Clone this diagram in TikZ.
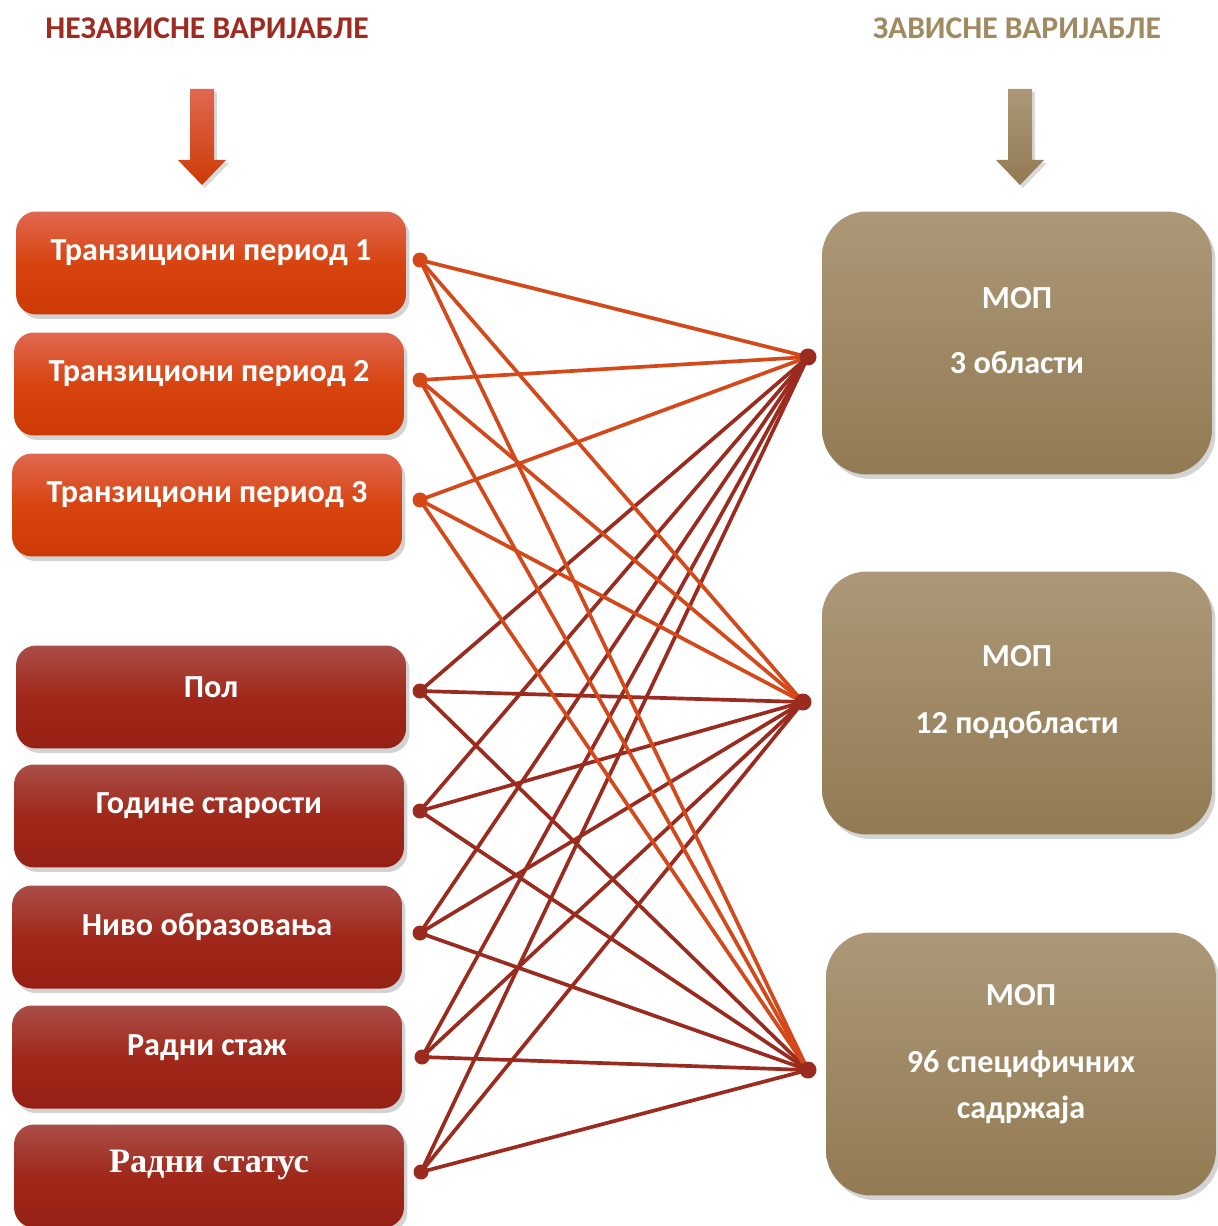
\documentclass[tikz,border=0pt]{standalone}
\usepackage{fontspec}
\setmainfont{Carlito}
\newfontfamily\statusfont{Liberation Serif}
\usetikzlibrary{shadows,positioning}
\definecolor{indtitle}{RGB}{158,43,34}
\definecolor{deptitle}{RGB}{160,138,98}
\definecolor{transtop}{RGB}{224,104,80}
\definecolor{transmid}{RGB}{216,68,16}
\definecolor{transbot}{RGB}{204,58,6}
\definecolor{demotop}{RGB}{170,78,72}
\definecolor{demomid}{RGB}{160,40,26}
\definecolor{demobot}{RGB}{150,32,20}
\definecolor{deptop}{RGB}{172,152,120}
\definecolor{depbot}{RGB}{146,122,82}
\definecolor{transline}{RGB}{212,72,26}
\definecolor{demoline}{RGB}{155,42,31}
\tikzset{%
	indbox/.style   = {rectangle, rounded corners=0.4cm, minimum width=7.8cm, minimum height=2.06cm,
		drop shadow={shadow xshift=0.07cm, shadow yshift=-0.09cm, opacity=0.35}},
	trans/.style    = {indbox, top color=transtop, bottom color=transbot, middle color=transmid},
	demo/.style     = {indbox, top color=demotop, bottom color=demobot, middle color=demomid},
	depbox/.style   = {rectangle, rounded corners=0.9cm, minimum width=7.8cm, minimum height=5.26cm,
		top color=deptop, bottom color=depbot,
		drop shadow={shadow xshift=0.07cm, shadow yshift=-0.09cm, opacity=0.35}},
	boxtext/.style  = {text=white, font=\fontsize{18.3}{22}\selectfont\bfseries},
	title/.style    = {font=\fontsize{18}{21}\selectfont\bfseries},
	tline/.style    = {transline, line width=2.1pt},
	dline/.style    = {demoline, line width=2.1pt},
	ldot/.style     = {circle, inner sep=0pt, minimum size=0.3cm},
	rdot/.style     = {circle, fill=demoline, inner sep=0pt, minimum size=0.34cm},
}
\begin{document}
\begin{tikzpicture}[x=0.02cm,y=-0.02cm]
	\useasboundingbox (0,0) rectangle (1217,1226);
	% titles and arrows
	\node[title, text=indtitle] (indtitle) at (207,28) {НЕЗАВИСНЕ ВАРИЈАБЛЕ};
	\node[title, text=deptitle] (deptitle) at (1017,28) {ЗАВИСНЕ ВАРИЈАБЛЕ};
	\shade[top color=transtop, bottom color=transbot, drop shadow={shadow xshift=0.06cm, shadow yshift=-0.06cm, opacity=0.3}]
		(190,89) -- (214,89) -- (214,160) -- (226,160) -- (202,185) -- (178,160) -- (190,160) -- cycle;
	\shade[top color=deptop, bottom color=depbot, drop shadow={shadow xshift=0.06cm, shadow yshift=-0.06cm, opacity=0.3}]
		(1008,89) -- (1032,89) -- (1032,160) -- (1044,160) -- (1020,185) -- (996,160) -- (1008,160) -- cycle;
	% independent variables
	\node[trans] (tp1) at (211,263) {};
	\node[trans] (tp2) at (209,384) {};
	\node[trans] (tp3) at (207,505) {};
	\node[demo] (pol) at (211,697) {};
	\node[demo] (godine) at (209,816) {};
	\node[demo] (nivo) at (207,937) {};
	\node[demo] (staz) at (207,1057) {};
	\node[demo] (status) at (209,1176) {};
	\node[boxtext] at (211,253) {Транзициони период 1};
	\node[boxtext] at (209,374) {Транзициони период 2};
	\node[boxtext] at (207,495) {Транзициони период 3};
	\node[boxtext] at (211,687) {Пол};
	\node[boxtext] at (209,806) {Године старости};
	\node[boxtext] at (207,927) {Ниво образовања};
	\node[boxtext] at (207,1048) {Радни стаж};
	\node[boxtext, font=\fontsize{19.5}{23}\selectfont\statusfont\bfseries] at (209,1165) {Радни статус};
	% dependent variables
	\node[depbox] (mop1) at (1017,343) {};
	\node[depbox] (mop2) at (1017,703) {};
	\node[depbox] (mop3) at (1021,1064) {};
	\node[boxtext, align=center] at (1017,331) {МОП\\[15pt]3 области};
	\node[boxtext, align=center] at (1017,692) {МОП\\[16pt]12 подобласти};
	\node[boxtext, align=center] at (1021,1054) {МОП\\[16pt]96 специфичних\\[4pt]садржаја};
	% connection points
	\coordinate (a1) at (420,260);
	\coordinate (a2) at (420,380);
	\coordinate (a3) at (420,500);
	\coordinate (a4) at (420,691);
	\coordinate (a5) at (420,811);
	\coordinate (a6) at (420,933);
	\coordinate (a7) at (422,1057);
	\coordinate (a8) at (421,1172);
	\coordinate (b1) at (808,357);
	\coordinate (b2) at (803,702);
	\coordinate (b3) at (808,1070);
	% links
	\draw[dline] (a4) -- (b1);  \draw[dline] (a4) -- (b2);  \draw[dline] (a4) -- (b3);
	\draw[dline] (a5) -- (b1);  \draw[dline] (a5) -- (b2);  \draw[dline] (a5) -- (b3);
	\draw[dline] (a6) -- (b1);  \draw[dline] (a6) -- (b2);  \draw[dline] (a6) -- (b3);
	\draw[dline] (a7) -- (b1);  \draw[dline] (a7) -- (b2);  \draw[dline] (a7) -- (b3);
	\draw[dline] (a8) -- (b1);  \draw[dline] (a8) -- (b2);  \draw[dline] (a8) -- (b3);
	\draw[tline] (a1) -- (b1);  \draw[tline] (a1) -- (b2);  \draw[tline] (a1) -- (b3);
	\draw[tline] (a2) -- (b1);  \draw[tline] (a2) -- (b2);  \draw[tline] (a2) -- (b3);
	\draw[tline] (a3) -- (b1);  \draw[tline] (a3) -- (b2);  \draw[tline] (a3) -- (b3);
	% dots
	\node[ldot, fill=transline] at (a1) {};
	\node[ldot, fill=transline] at (a2) {};
	\node[ldot, fill=transline] at (a3) {};
	\node[ldot, fill=demoline] at (a4) {};
	\node[ldot, fill=demoline] at (a5) {};
	\node[ldot, fill=demoline] at (a6) {};
	\node[ldot, fill=demoline] at (a7) {};
	\node[ldot, fill=demoline] at (a8) {};
	\node[rdot] at (b1) {};
	\node[rdot] at (b2) {};
	\node[rdot] at (b3) {};
\end{tikzpicture}
\end{document}
